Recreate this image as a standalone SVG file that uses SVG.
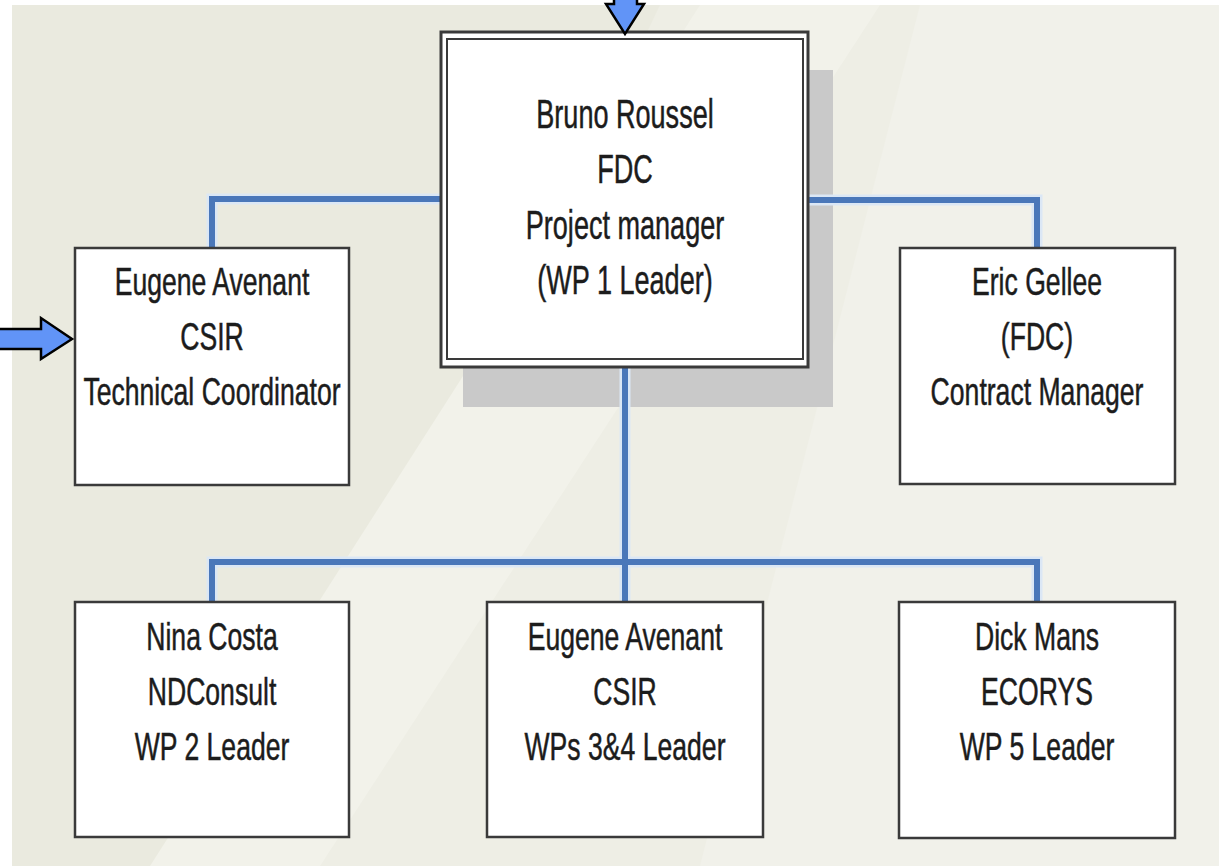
<svg xmlns="http://www.w3.org/2000/svg" width="1219" height="866" viewBox="0 0 1219 866">
  <defs>
    <style>
      .box { fill: #ffffff; stroke: #3a3a3a; stroke-width: 2.5; }
      .halo { fill: none; stroke: #dbe7f5; stroke-width: 11; stroke-linejoin: miter; }
      .conn { fill: none; stroke: #4a77b9; stroke-width: 6; stroke-linejoin: miter; }
      .lbl { font-family: "Liberation Sans", Arial, sans-serif; font-size: 38px; fill: #1c1c1c; stroke: #1c1c1c; stroke-width: 0.5; text-anchor: middle; }
      .lblc { font-family: "Liberation Sans", Arial, sans-serif; font-size: 41px; fill: #1c1c1c; stroke: #1c1c1c; stroke-width: 0.5; text-anchor: middle; }
      .arrow { fill: #6194f7; stroke: #000000; stroke-width: 2.5; stroke-linejoin: miter; }
    </style>
  </defs>

  <!-- background -->
  <rect x="0" y="0" width="1219" height="866" fill="#ffffff"/>
  <rect x="12" y="5" width="1207" height="861" fill="#eaeadf"/>
  <polygon points="660,5 1219,5 1219,866 250,866" fill="#eeeee5"/>
  <polygon points="700,5 880,5 320,866 150,866" fill="#f2f2ea"/>
  <polygon points="920,5 1219,5 1219,866 700,866" fill="#f1f1ea"/>

  <!-- shadow of center node -->
  <rect id="shadow-bruno" x="463" y="70" width="370" height="337" fill="#c9c9c9"/>

  <!-- connectors -->
  <g id="connectors">
    <path class="halo" d="M441,199 H212 V248 M808,200 H1037 V248 M625,367 V602 M212,602 V562 H1037 V602"/>
    <path class="conn" d="M441,199 H212 V248"/>
    <path class="conn" d="M808,200 H1037 V248"/>
    <path class="conn" d="M625,367 V602"/>
    <path class="conn" d="M212,602 V562 H1037 V602"/>
  </g>

  <!-- center node -->
  <g id="node-bruno">
    <rect x="441" y="32" width="367" height="335" fill="#ffffff" stroke="#3a3a3a" stroke-width="3"/>
    <rect x="447" y="39" width="356" height="320" fill="#ffffff" stroke="#3a3a3a" stroke-width="2"/>
    <g transform="translate(625,0) scale(0.66,1)">
      <text class="lblc" x="0" y="128">Bruno Roussel</text>
      <text class="lblc" x="0" y="183">FDC</text>
      <text class="lblc" x="0" y="239">Project manager</text>
      <text class="lblc" x="0" y="294">(WP 1 Leader)</text>
    </g>
  </g>

  <g id="node-eugene-tech">
    <rect class="box" x="75" y="248" width="274" height="237"/>
    <g transform="translate(212,0) scale(0.7,1)">
      <text class="lbl" x="0" y="295">Eugene Avenant</text>
      <text class="lbl" x="0" y="350">CSIR</text>
      <text class="lbl" x="0" y="405">Technical Coordinator</text>
    </g>
  </g>

  <g id="node-eric">
    <rect class="box" x="900" y="248" width="275" height="236"/>
    <g transform="translate(1037,0) scale(0.7,1)">
      <text class="lbl" x="0" y="295">Eric Gellee</text>
      <text class="lbl" x="0" y="350">(FDC)</text>
      <text class="lbl" x="0" y="405">Contract Manager</text>
    </g>
  </g>

  <g id="node-nina">
    <rect class="box" x="75" y="602" width="274" height="235"/>
    <g transform="translate(212,0) scale(0.7,1)">
      <text class="lbl" x="0" y="650">Nina Costa</text>
      <text class="lbl" x="0" y="705">NDConsult</text>
      <text class="lbl" x="0" y="760">WP 2 Leader</text>
    </g>
  </g>

  <g id="node-eugene-wp34">
    <rect class="box" x="487" y="602" width="276" height="235"/>
    <g transform="translate(625,0) scale(0.7,1)">
      <text class="lbl" x="0" y="650">Eugene Avenant</text>
      <text class="lbl" x="0" y="705">CSIR</text>
      <text class="lbl" x="0" y="760">WPs 3&amp;4 Leader</text>
    </g>
  </g>

  <g id="node-dick">
    <rect class="box" x="899" y="602" width="276" height="236"/>
    <g transform="translate(1037,0) scale(0.7,1)">
      <text class="lbl" x="0" y="650">Dick Mans</text>
      <text class="lbl" x="0" y="705">ECORYS</text>
      <text class="lbl" x="0" y="760">WP 5 Leader</text>
    </g>
  </g>

  <!-- pointer arrows -->
  <g id="arrow-top">
    <polygon class="arrow" points="614,-10 637,-10 637,4 644,4 625,34 606,4 614,4"/>
  </g>
  <g id="arrow-left">
    <polygon class="arrow" points="-5,329 41,329 41,318 72,339 41,359 41,349 -5,349"/>
  </g>
</svg>
